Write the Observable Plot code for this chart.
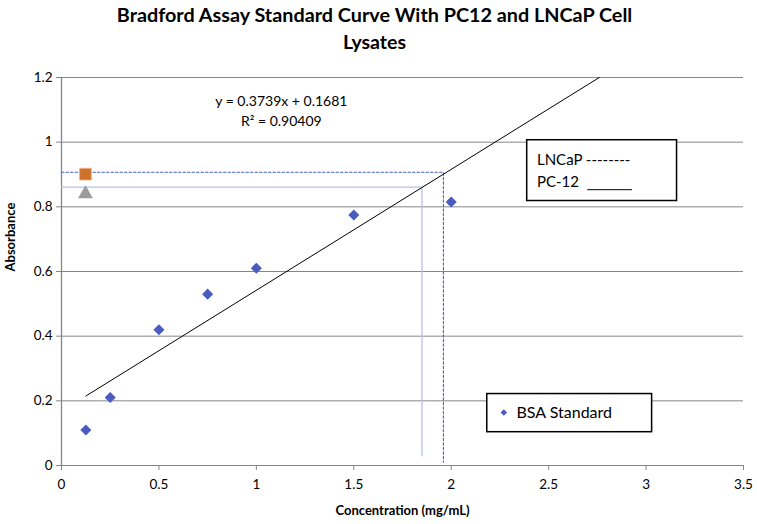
<!DOCTYPE html>
<html>
<head>
<meta charset="utf-8">
<script src="https://cdn.jsdelivr.net/npm/d3@7"></script>
<script src="https://cdn.jsdelivr.net/npm/@observablehq/plot@0.6"></script>
<style>
  html, body { margin: 0; padding: 0; background: #fff; }
  #chart { position: relative; width: 757px; height: 524px; }
  svg { font-family: Lato, "Open Sans", sans-serif; }
</style>
</head>
<body>
<div id="chart"></div>
<script>
// ---- data ----
const bsaConc = [0.125, 0.25, 0.5, 0.75, 1, 1.5, 2];
const bsaAbs = [0.11, 0.21, 0.42, 0.53, 0.61, 0.775, 0.815];
const slope = 0.3739;
const intercept = 0.1681;
const fitRange = [0.125, 2.76];
const lncapAbs = 0.907;
const lncapConc = 1.96;
const pc12Abs = 0.861;
const pc12Conc = 1.85;
const sampleX = 0.123;
const pc12MarkerAbs = 0.84;
const xTicks = [0, 0.5, 1, 1.5, 2, 2.5, 3, 3.5];
const yTicks = [0, 0.2, 0.4, 0.6, 0.8, 1, 1.2];

const bsa = bsaConc.map((c, i) => ({x: c, y: bsaAbs[i]}));
const fit = fitRange.map(x => ({x, y: slope * x + intercept}));
const lncapPath = [{x: 0, y: lncapAbs}, {x: lncapConc, y: lncapAbs}, {x: lncapConc, y: 0.01}];
const pc12Path = [{x: 0, y: pc12Abs}, {x: pc12Conc, y: pc12Abs}, {x: pc12Conc, y: 0.03}];

const diamond = {
  draw(ctx, size) {
    const s = Math.sqrt(size / 2);
    ctx.moveTo(0, -s); ctx.lineTo(s, 0); ctx.lineTo(0, s); ctx.lineTo(-s, 0); ctx.closePath();
  }
};
const fmt = d => String(+d.toFixed(1));
const gray = "#868686";

const plot = Plot.plot({
  width: 757,
  height: 524,
  marginLeft: 61,
  marginRight: 14,
  marginTop: 77,
  marginBottom: 59,
  style: {fontFamily: "Lato, 'Open Sans', sans-serif", background: "#fff", overflow: "visible"},
  x: {domain: [0, 3.5]},
  y: {domain: [0, 1.2]},
  marks: [
    Plot.gridY(yTicks, {stroke: gray, strokeOpacity: 1, strokeWidth: 1}),
    Plot.axisY(yTicks, {tickSize: 5, tickPadding: 4, stroke: gray, tickFormat: fmt, fontSize: 13.5, fill: "#000", label: null}),
    Plot.axisX(xTicks, {tickSize: 5, tickPadding: 9, stroke: gray, tickFormat: fmt, fontSize: 13.5, fill: "#000", label: null}),
    Plot.ruleX([0], {stroke: gray, strokeWidth: 1.3}),
    Plot.ruleY([0], {stroke: gray, strokeWidth: 1}),
    Plot.line(pc12Path, {x: "x", y: "y", stroke: "#b4c1ea", strokeWidth: 1.3}),
    Plot.line(lncapPath, {x: "x", y: "y", stroke: "#4a62d0", strokeWidth: 1.1, strokeDasharray: "2.5,2"}),
    Plot.line(fit, {x: "x", y: "y", stroke: "#000", strokeWidth: 1}),
    Plot.dot(bsa, {x: "x", y: "y", symbol: diamond, r: 4.4, fill: "#4a5cc0", stroke: "none"}),
    Plot.dot([lncapAbs], {x: () => sampleX, y: d => d - 0.006, symbol: "square", r: 6.6, fill: "#d0712b", stroke: "#f0b080", strokeWidth: 0.8}),
    Plot.dot([pc12MarkerAbs], {x: () => sampleX, y: d => d, symbol: "triangle", r: 5.5, fill: "#9c9c9c", stroke: "none"}),
    // equation
    Plot.text([`y = ${slope}x + ${intercept}`], {x: 1.128, y: 1.127, fontSize: 14, fill: "#000"}),
    Plot.text(["R² = 0.90409"], {x: 1.128, y: 1.065, fontSize: 14, fill: "#000"}),
    // sample legend box
    Plot.rect([0], {x1: 2.39, x2: 3.159, y1: 0.818, y2: 1.006, fill: "#fff", stroke: "#000", strokeWidth: 1.5}),
    Plot.text(["LNCaP --------"], {x: 2.44, y: 0.945, textAnchor: "start", fontSize: 15, fill: "#000"}),
    Plot.text(["PC-12"], {x: 2.44, y: 0.875, textAnchor: "start", fontSize: 15, fill: "#000"}),
    Plot.ruleY([0.853], {x1: 2.70, x2: 2.93, stroke: "#000", strokeWidth: 1}),
    // BSA legend box
    Plot.rect([0], {x1: 2.185, x2: 3.031, y1: 0.103, y2: 0.221, fill: "#fff", stroke: "#000", strokeWidth: 1.5}),
    Plot.dot([0], {x: () => 2.27, y: () => 0.164, symbol: diamond, r: 2.6, fill: "#4a5cc0", stroke: "none"}),
    Plot.text(["BSA Standard"], {x: 2.335, y: 0.162, textAnchor: "start", fontSize: 16, fill: "#000"}),
    // title
    Plot.text(["Bradford Assay Standard Curve With PC12 and LNCaP Cell"], {frameAnchor: "top", dx: -28, dy: -62, fontSize: 19.8, fontWeight: "bold", fill: "#000", lineAnchor: "middle"}),
    Plot.text(["Lysates"], {frameAnchor: "top", dx: -28, dy: -35, fontSize: 19.5, fontWeight: "bold", fill: "#000", lineAnchor: "middle"}),
    // axis labels
    Plot.text(["Absorbance"], {frameAnchor: "left", dx: -51, rotate: -90, fontSize: 13, fontWeight: "bold", fill: "#000"}),
    Plot.text(["Concentration (mg/mL)"], {frameAnchor: "bottom", dy: 49, fontSize: 13, fontWeight: "bold", fill: "#000"})
  ]
});
document.getElementById("chart").appendChild(plot);
</script>
</body>
</html>
